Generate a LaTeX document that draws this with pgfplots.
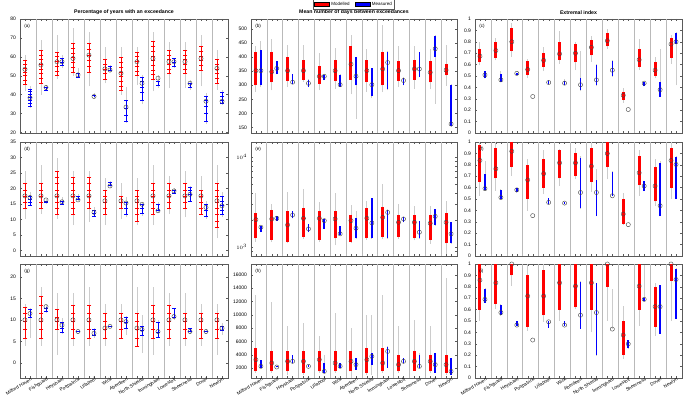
\documentclass[border=0pt]{standalone}
\usepackage{fontspec}
\setmainfont{Liberation Sans}
\usepackage{pgfplots}
\usepackage{pgfplotstable}
\pgfplotsset{compat=1.18}

% columns: station, modelled median/min/max/dense-low/dense-high, measured median/min/max/dense-low/dense-high
\pgfplotstableread{
s rm rl rh rdl rdh bm bl bh bdl bdh
1 53.4 41.7 61.2 45.6 58 38.3 33 44.3 34 43
2 55.7 40 69 46 63.5 43.8 41.7 45 42 44
3 57.4 48 71.3 50 62.5 57.4 54 61 55.5 59
4 59.1 49.6 75 52 67 50.4 48.7 54 49 51
5 60.9 44.3 73 52 67 39 38.3 41 39 39.5
6 53.6 46 65 48 58.5 53 51.8 55.7 53 55
7 51.3 40 65 42 59.5 33.4 25.2 44 26 37
8 57.4 45 65 50 62.5 46 35 50.4 37 49
9 59.1 41.7 73 48 68 48.7 43.5 50.4 45 47
10 57.4 43.5 67.8 51 63.5 57.4 54 59 55 59
11 57.4 43.5 67.8 51 63.5 46 42.6 47.8 44 46
12 59.1 44.3 71.3 53 65.5 36.5 24.3 41 26 39
13 53.9 42.6 63.5 46 58.5 36.5 34.4 42.6 35.5 41
}\tabA
\pgfplotstableread{
s rm rl rh rdl rdh bm bl bh bdl bdh
1 352 276 439 300 420 352 293 457 300 425
2 348 282 463 310 420 360 340 387 340 385
3 352 293 442 315 400 311 305 340 305 340
4 352 311 442 320 390 307 293 323 295 320
5 332 282 416 305 370 332 317 340 318 338
6 352 288 433 315 390 302 293 340 295 335
7 375 268 480 320 440 332 180 400 300 400
8 352 276 428 310 390 302 253 360 260 360
9 358 276 515 300 420 381 282 422 285 420
10 352 293 439 315 385 317 305 328 300 325
11 358 288 439 320 390 358 328 420 330 420
12 346 285 428 310 385 430 235 480 400 475
13 354 299 445 335 375 162 153 305 155 300
}\tabB
\pgfplotstableread{
s rm rl rh rdl rdh bm bl bh bdl bdh
1 0.674 0.594 0.794 0.62 0.74 0.509 0.48 0.54 0.48 0.54
2 0.723 0.637 0.837 0.66 0.80 0.466 0.45 0.54 0.45 0.52
3 0.80 0.666 0.966 0.72 0.92 0.523 0.51 0.53 0.51 0.53
4 0.557 0.48 0.651 0.51 0.63 0.32 0.32 0.32 0.32 0.32
5 0.637 0.543 0.751 0.58 0.70 0.443 0.43 0.46 0.43 0.46
6 0.694 0.609 0.894 0.64 0.80 0.437 0.42 0.47 0.42 0.46
7 0.70 0.551 0.80 0.62 0.78 0.423 0.366 0.723 0.38 0.48
8 0.751 0.623 0.851 0.68 0.82 0.466 0.409 0.609 0.42 0.60
9 0.809 0.737 0.909 0.76 0.88 0.551 0.494 0.637 0.50 0.63
10 0.331 0.266 0.394 0.29 0.36 0.206 0.206 0.206 0.206 0.206
11 0.643 0.551 0.823 0.58 0.74 0.437 0.409 0.451 0.41 0.45
12 0.551 0.48 0.666 0.50 0.62 0.38 0.323 0.737 0.32 0.45
13 0.78 0.609 0.86 0.66 0.83 0.80 0.417 0.886 0.78 0.88
}\tabC
\pgfplotstableread{
s rm rl rh rdl rdh bm bl bh bdl bdh
1 17.6 10.1 25.6 13.5 21.5 17.1 14.4 18.7 14.5 17.5
2 17.6 11.7 27.7 13.5 21.5 16.3 14.9 16.5 15.5 16
3 17.6 10.1 29.9 11.5 25.5 15.7 14.9 17.1 15 16
4 17.6 8.2 25.6 11.5 23.5 16.3 16.0 18.1 16.5 17.5
5 17.6 9.1 25.6 13.5 23.5 12.3 10.7 13.9 11 13
6 16 8.2 23.5 11.5 19.5 20.8 20 22.4 21 22
7 16 10.1 21.9 13.5 17.5 15.3 10.7 17.1 11.5 15.5
8 16 8.2 23.5 9.5 19.5 14.9 11.2 15.5 12 15
9 17.6 8.2 27.7 11.5 21.5 12.8 12.3 15.5 13 15
10 17.6 11.7 24 13.5 21.5 19.2 18.1 20.3 18.5 19.5
11 17.6 10.7 25.6 13.5 21.5 18.1 16 20.8 16 20.5
12 17.6 11.7 24 11.5 19.5 13.9 10.1 16 11 15
13 16 3.9 27.7 7.5 21.5 14.4 10.7 18.7 11.5 17.5
}\tabD
\pgfplotstableread{
s rm rl rh rdl rdh bm bl bh bdl bdh
1 2018 1150 4045 1250 2400 1662 1463 1733 1463 1733
2 2054 1135 3003 1200 2600 2090 1967 2235 1967 2235
3 1763 1100 4106 1150 2500 2273 2090 2536 2090 2536
4 2090 1236 4472 1300 2700 1592 1463 1808 1463 1808
5 2090 1135 3135 1200 2500 1967 1592 2054 1600 2054
6 2054 1043 4045 1250 2500 1403 1367 1733 1370 1733
7 1967 1100 2931 1150 2300 1620 1236 2536 1250 2100
8 2090 1200 3270 1250 2700 1855 1236 3557 1250 3500
9 2142 1236 4993 1300 2800 2430 1236 2646 1250 2600
10 1886 1236 3003 1300 2300 2054 1886 2142 1886 2142
11 1886 1184 2879 1250 2300 1463 1236 1967 1250 1950
12 1840 1088 2879 1200 2300 2195 1733 2646 1750 2646
13 1886 844 3270 1100 2400 1403 1088 1886 1100 1886
}\tabE
\pgfplotstableread{
s rm rl rh rdl rdh bm bl bh bdl bdh
1 0.838 0.528 1.0 0.65 0.97 0.591 0.571 0.832 0.58 0.72
2 0.765 0.571 1.0 0.68 0.95 0.513 0.499 0.586 0.50 0.58
3 0.919 0.701 1.0 0.78 1.0 0.58 0.557 0.597 0.56 0.60
4 0.667 0.397 0.852 0.50 0.80 0.354 0.354 0.354 0.354 0.354
5 0.722 0.542 0.933 0.60 0.85 0.47 0.455 0.513 0.46 0.51
6 0.817 0.614 0.939 0.68 0.93 0.464 0.455 0.475 0.455 0.47
7 0.817 0.672 0.948 0.70 0.90 0.557 0.412 0.875 0.42 0.86
8 0.788 0.562 1.0 0.65 0.95 0.557 0.354 0.759 0.35 0.67
9 0.899 0.672 1.0 0.78 1.0 0.528 0.528 0.745 0.53 0.74
10 0.368 0.272 0.557 0.28 0.50 0.275 0.275 0.275 0.275 0.275
11 0.73 0.528 0.933 0.62 0.88 0.614 0.571 0.658 0.57 0.66
12 0.614 0.441 0.852 0.48 0.78 0.441 0.354 0.832 0.35 0.82
13 0.838 0.504 1.0 0.60 0.95 0.803 0.504 0.875 0.50 0.87
}\tabF
\pgfplotstableread{
s rm rl rh rdl rdh bm bl bh bdl bdh
1 10 4 13.8 5.8 13 11.5 5.8 12.7 10.5 12.5
2 10 4 17.7 5.8 15.4 13.1 11.5 13.5 12 13.1
3 10 1.9 16.2 7.7 12.5 8.8 6.8 10.4 7 9.5
4 10 4 16.2 5.8 13.5 7.3 7.3 7.3 7.3 7.3
5 10 4 17.7 5.8 13.5 6.9 5.8 8.1 6.5 7.7
6 8.1 4 13.8 5.8 11.5 8.5 8.5 8.5 8.5 8.5
7 10 5.8 13.8 5.8 11.5 9.6 6.5 10.8 8 10.5
8 8.1 4 17.7 3.8 11.5 7.8 2.3 11.2 6.5 8.5
9 10 1.9 17.7 5.8 13.5 7.3 5.8 10 6 9.5
10 10 4 16.2 5.8 13.5 10.8 10 12.7 10.5 12.7
11 10 4 16.2 5.8 11.5 7.3 6.9 8.1 7.3 8
12 10 4 13.8 5.8 11.5 7.3 7.1 7.8 7.3 7.3
13 10 1.9 13.8 5.8 11.5 8.1 6.5 9.2 7.5 8.5
}\tabG
\pgfplotstableread{
s rm rl rh rdl rdh bm bl bh bdl bdh
1 3245 1250 12960 1500 5000 2250 2000 3245 2000 3200
2 2750 1250 11960 1500 4500 2150 2100 2250 2100 2250
3 3000 1000 8225 1500 4500 3000 2750 4000 2750 4000
4 3000 1000 8720 1300 4500 2250 2150 2500 2150 2500
5 3245 1250 6730 1500 4500 1500 1250 4000 1250 2700
6 2750 1250 10200 1500 4500 2250 2000 2750 2000 2750
7 3000 500 7980 1500 4500 2500 1750 3500 1750 3500
8 3245 1000 9970 1300 5000 3740 1000 9970 2500 4200
9 2750 1250 12960 1500 5000 4490 2000 5240 2000 5200
10 2500 1250 8225 1500 4000 3000 2750 3500 2750 3500
11 3000 1500 9220 1600 4500 2250 2000 4240 2000 4000
12 3000 1250 8225 1500 4000 2500 1250 4240 1250 4200
13 2500 1000 15450 1300 4000 1500 1000 3500 1000 3500
}\tabH
\pgfplotstableread{
s rm rl rh rdl rdh bm bl bh bdl bdh
1 0.858 0.501 1 0.60 1 0.69 0.661 0.79 0.66 0.78
2 0.835 0.603 1 0.65 1 0.574 0.545 0.646 0.55 0.64
3 1 0.806 1 0.90 1 0.464 0.458 0.501 0.46 0.50
4 0.719 0.414 1 0.45 0.90 0.333 0.333 0.333 0.333 0.333
5 0.719 0.493 1 0.55 0.95 0.493 0.443 0.501 0.44 0.50
6 0.835 0.501 1 0.60 1 0.464 0.458 0.501 0.46 0.50
7 0.806 0.603 1 0.62 1 0.551 0.429 0.849 0.43 0.84
8 0.835 0.40 1 0.60 1 0.574 0.197 0.835 0.20 0.83
9 1 0.501 1 0.80 1 0.429 0.429 0.777 0.429 0.429
10 0.377 0.168 0.632 0.20 0.50 0.299 0.255 0.328 0.26 0.33
11 0.806 0.458 1 0.60 1 0.69 0.675 0.994 0.675 0.70
12 0.626 0.371 0.835 0.45 0.80 0.626 0.386 0.82 0.39 0.82
13 1 0.501 1 0.85 1 0.864 0.516 0.965 0.52 0.96
}\tabI

\definecolor{frame}{RGB}{90,90,90}

\pgfplotsset{
  panel/.style={
    scale only axis, anchor=north west, height=114pt,
    xmin=0.5, xmax=13.5, clip=false,
    xtick={1,...,13}, xticklabels={}, major x tick style={draw=none},
    minor xtick={0.81,1.125,1.81,2.125,2.81,3.125,3.81,4.125,4.81,5.125,5.81,6.125,6.81,7.125,
                 7.81,8.125,8.81,9.125,9.81,10.125,10.81,11.125,11.81,12.125,12.81,13.125},
    extra x ticks={1.5,2.5,...,12.5}, extra x tick labels={},
    extra x tick style={grid=major},
    major grid style={draw=gray!55, line width=0.7pt},
    axis line style={draw=frame, line width=0.4pt},
    every tick/.append style={draw=frame, line width=0.3pt},
    major tick length=2pt, minor tick length=1.8pt,
    tick label style={font=\fontsize{5}{6}\selectfont},
    /pgf/number format/assume math mode=true,
    yticklabel style={xshift=-0.5pt},
    every axis title/.style={at={(0.5,1)}, anchor=south, yshift=0.6pt,
      font=\bfseries\fontsize{5.2}{6}\selectfont},
  },
  stations/.style={
    xticklabels={Milford Haven,Fishguard,Heysham,Portpatrick,Ullapool,Wick,Aberdeen,
      North Shields,Immingham,Lowestoft,Sheerness,Dover,Newlyn},
    xticklabel style={rotate=31, anchor=north east, inner sep=0.5pt,
      font=\fontsize{4.7}{5}\selectfont, xshift=3pt},
  },
  reddash/.style={forget plot, only marks, mark=-, mark size=2.3pt, color=red,
    mark options={line width=0.7pt}, x filter/.expression={x-0.19}},
  bluedash/.style={forget plot, only marks, mark=-, mark size=1.8pt, color=blue,
    mark options={line width=0.7pt}, x filter/.expression={x+0.125}},
}

% value mapping onto the drawn y scale (identity; log10 for the log-scaled panel)
\def\T#1{(#1)}

% grey extent, coloured core of each distribution (#2 modelled width, #3 measured width)
\newcommand\violins[3]{%
  \addplot[forget plot, draw=none, mark=none, error bars/.cd, y dir=plus, y explicit, error mark=none,
    error bar style={draw=gray!40, line width=0.9pt}]
    table[x expr=\thisrow{s}-0.19, y expr=\T{\thisrow{rl}},
      y error plus expr=\T{\thisrow{rh}}-\T{\thisrow{rl}}] {#1};
  \addplot[forget plot, draw=none, mark=none, error bars/.cd, y dir=plus, y explicit, error mark=none,
    error bar style={draw=gray!40, line width=0.9pt}]
    table[x expr=\thisrow{s}+0.125, y expr=\T{\thisrow{bl}},
      y error plus expr=\T{\thisrow{bh}}-\T{\thisrow{bl}}] {#1};
  \addplot[forget plot, draw=none, mark=none, error bars/.cd, y dir=plus, y explicit, error mark=none,
    error bar style={draw=red, line width=#2}]
    table[x expr=\thisrow{s}-0.19, y expr=\T{\thisrow{rdl}},
      y error plus expr=\T{\thisrow{rdh}}-\T{\thisrow{rdl}}] {#1};
  \addplot[forget plot, draw=none, mark=none, error bars/.cd, y dir=plus, y explicit, error mark=none,
    error bar style={draw=blue, line width=#3}]
    table[x expr=\thisrow{s}+0.125, y expr=\T{\thisrow{bdl}},
      y error plus expr=\T{\thisrow{bdh}}-\T{\thisrow{bdl}}] {#1};
}
% white median circles
\newcommand\medians[1]{%
  \addplot[forget plot, only marks, mark=o, mark size=2.1pt,
    mark options={fill=white, draw=gray!50!black, line width=0.4pt}]
    table[x expr=\thisrow{s}-0.19, y expr=\T{\thisrow{rm}}] {#1};
  \addplot[forget plot, only marks, mark=o, mark size=2.1pt,
    mark options={fill=white, draw=gray!50!black, line width=0.4pt}]
    table[x expr=\thisrow{s}+0.125, y expr=\T{\thisrow{bm}}] {#1};
}
\newcommand\plab[1]{\node[anchor=north west, font=\fontsize{4.6}{5}\selectfont, inner sep=0pt]
  at (rel axis cs:0.02,0.96) {#1};}

\begin{document}
\begin{tikzpicture}
\path[use as bounding box] (0,0) rectangle (685pt,-403pt);

% ---------- row 1 ----------
\begin{axis}[panel, at={(20pt,-19pt)}, width=208pt, ymin=19.7, ymax=80, ytick={20,30,...,80},
  title={Percentage of years with an exceedance}]
\violins{\tabA}{0.4pt}{0.5pt}
\addplot[reddash] coordinates {(1,45.6)(1,47.8)(1,50)(1,52)(1,54)(1,56)(1,58)
 (2,46)(2,48.5)(2,51)(2,53.5)(2,56)(2,58.5)(2,61)(2,63.5)
 (3,50)(3,52.5)(3,55)(3,57.5)(3,60)(3,62.5)
 (4,52)(4,54.5)(4,57)(4,59.5)(4,62)(4,64.5)(4,67)
 (5,52)(5,55)(5,58)(5,61)(5,64)(5,67)
 (6,48)(6,51)(6,53.5)(6,56)(6,58.5)
 (7,42)(7,44.5)(7,47)(7,49.5)(7,52)(7,54.5)(7,57)(7,59.5)
 (8,50)(8,52.5)(8,55)(8,57.5)(8,60)(8,62.5)
 (9,48)(9,50.5)(9,53)(9,55.5)(9,58)(9,60.5)(9,63)(9,65.5)(9,68)
 (10,51)(10,53.5)(10,56)(10,58.5)(10,61)(10,63.5)
 (11,51)(11,53.5)(11,56)(11,58.5)(11,61)(11,63.5)
 (12,53)(12,55.5)(12,58)(12,60.5)(12,63)(12,65.5)
 (13,46)(13,48.5)(13,51)(13,53.5)(13,56)(13,58.5)};
\addplot[bluedash] coordinates {(1,34)(1,35.5)(1,37)(1,38.5)(1,40)(1,41.5)(1,43)
 (2,42)(2,44) (3,55.5)(3,57)(3,59) (4,49)(4,51) (5,39.5) (6,53)(6,55)
 (7,26)(7,29)(7,33)(7,37) (8,37)(8,41)(8,44)(8,47)(8,49) (9,45)(9,47)
 (10,55)(10,57)(10,59) (11,44)(11,46) (12,26)(12,30)(12,34)(12,37)(12,39)
 (13,35.5)(13,37)(13,39)(13,41)};
\medians{\tabA}
\plab{(a)}
\end{axis}

\begin{axis}[panel, at={(251pt,-19pt)}, width=206pt, ymin=130, ymax=536, ytick={150,200,...,500},
  title={Mean number of days between exceedances},
  legend style={at={(0.5,1)}, anchor=south, yshift=9.5pt, draw=frame, line width=0.3pt,
    font=\fontsize{4.5}{5}\selectfont, legend columns=2, inner sep=0.6pt,
    /tikz/every even column/.append style={column sep=3pt}},
  legend image code/.code={\fill[#1] (0pt,-1.7pt) rectangle (15pt,1.9pt);}]
\addlegendimage{fill=red}\addlegendentry{Modelled}
\addlegendimage{fill=blue}\addlegendentry{Measured}
\violins{\tabB}{3pt}{1.6pt}
\medians{\tabB}
\plab{(b)}
\end{axis}

\begin{axis}[panel, at={(475pt,-19pt)}, width=207pt, ymin=0, ymax=1, ytick={0,0.1,...,1.0},
  title={Extremal index}]
\violins{\tabC}{3pt}{1.6pt}
\medians{\tabC}
\plab{(c)}
\end{axis}

% ---------- row 2 ----------
\begin{axis}[panel, at={(20pt,-142pt)}, width=208pt, ymin=-1.8, ymax=35, ytick={0,5,...,35}]
\violins{\tabD}{0.4pt}{0.5pt}
\addplot[reddash] coordinates {(1,13.5)(1,15.5)(1,17.5)(1,19.5)(1,21.5)
 (2,13.5)(2,15.5)(2,17.5)(2,19.5)(2,21.5)
 (3,11.5)(3,13.5)(3,15.5)(3,17.5)(3,19.5)(3,21.5)(3,23.5)(3,25.5)
 (4,11.5)(4,13.5)(4,15.5)(4,17.5)(4,19.5)(4,21.5)(4,23.5)
 (5,13.5)(5,15.5)(5,17.5)(5,19.5)(5,21.5)(5,23.5)
 (6,11.5)(6,13.5)(6,15.5)(6,17.5)(6,19.5)
 (7,13.5)(7,15.5)(7,17.5)
 (8,9.5)(8,11.5)(8,13.5)(8,15.5)(8,17.5)(8,19.5)
 (9,11.5)(9,13.5)(9,15.5)(9,17.5)(9,19.5)(9,21.5)
 (10,13.5)(10,15.5)(10,17.5)(10,19.5)(10,21.5)
 (11,13.5)(11,15.5)(11,17.5)(11,19.5)(11,21.5)
 (12,11.5)(12,13.5)(12,15.5)(12,17.5)(12,19.5)
 (13,7.5)(13,9.5)(13,11.5)(13,13.5)(13,15.5)(13,17.5)(13,19.5)(13,21.5)};
\addplot[bluedash] coordinates {(1,14.5)(1,15.5)(1,16.5)(1,17.5) (2,15.5)(2,16) (3,15)(3,16)
 (4,16.5)(4,17.5) (5,11)(5,12)(5,13) (6,21)(6,22) (7,11.5)(7,13.5)(7,15.5)
 (8,12)(8,13.5)(8,15) (9,13)(9,15) (10,18.5)(10,19.5) (11,16)(11,18)(11,19.5)(11,20.5)
 (12,11)(12,13)(12,15) (13,11.5)(13,13)(13,14.5)(13,16)(13,17.5)};
\medians{\tabD}
\plab{(d)}
\end{axis}

% log-scaled panel: values are mapped through log10 onto a linear axis
\begingroup
\def\T#1{log10(#1)}
\begin{axis}[panel, at={(251pt,-142pt)}, width=206pt, ymin=2.9004, ymax=4.1691,
  ytick={3,4}, yticklabels={$10^3$,$10^4$},
  minor ytick={2.9031,2.9542,3.3010,3.4771,3.6021,3.6990,3.7782,3.8451,3.9031,3.9542}]
\violins{\tabE}{3pt}{1.6pt}
\medians{\tabE}
\plab{(e)}
\end{axis}
\endgroup

\begin{axis}[panel, at={(475pt,-142pt)}, width=207pt, ymin=0, ymax=1, ytick={0,0.1,...,1.0}]
\violins{\tabF}{3pt}{1.6pt}
\medians{\tabF}
\plab{(f)}
\end{axis}

% ---------- row 3 ----------
\begin{axis}[panel, stations, at={(20pt,-264pt)}, width=208pt, ymin=-3.5, ymax=23, ytick={0,5,...,20}]
\violins{\tabG}{0.4pt}{0.5pt}
\addplot[reddash] coordinates {(1,5.8)(1,7.7)(1,9.6)(1,11.5)(1,13)
 (2,5.8)(2,7.7)(2,9.6)(2,11.5)(2,13.5)(2,15.4)
 (3,7.7)(3,9.6)(3,10.5)(3,12.5)
 (4,5.8)(4,7.7)(4,9.6)(4,11.5)(4,13.5)
 (5,5.8)(5,7.7)(5,9.6)(5,11.5)(5,13.5)
 (6,5.8)(6,7.7)(6,9.6)(6,11.5)
 (7,5.8)(7,7.7)(7,9.6)(7,11.5)
 (8,3.8)(8,5.8)(8,7.7)(8,9.6)(8,11.5)
 (9,5.8)(9,7.7)(9,9.6)(9,11.5)(9,13.5)
 (10,5.8)(10,7.7)(10,9.6)(10,11.5)(10,13.5)
 (11,5.8)(11,7.7)(11,9.6)(11,11.5)
 (12,5.8)(12,7.7)(12,9.6)(12,11.5)
 (13,5.8)(13,7.7)(13,9.6)(13,11.5)};
\addplot[bluedash] coordinates {(1,10.5)(1,12.5) (2,12)(2,12.8) (3,7)(3,8)(3,9.5) (4,7.3)
 (5,6.5)(5,7.7) (6,8.5) (7,8)(7,9.5)(7,10.5) (8,6.5)(8,7.5)(8,8.5) (9,6)(9,7)(9,9.5)
 (10,10.5)(10,12.7) (11,7.3)(11,8) (12,7.3) (13,7.5)(13,8.5)};
\medians{\tabG}
\plab{(g)}
\end{axis}

\begin{axis}[panel, stations, at={(251pt,-264pt)}, width=206pt, ymin=500, ymax=17600,
  ytick={2000,4000,...,16000}, scaled y ticks=false,
  yticklabel style={/pgf/number format/set thousands separator={}}]
\violins{\tabH}{3pt}{1.6pt}
\medians{\tabH}
\plab{(h)}
\end{axis}

\begin{axis}[panel, stations, at={(475pt,-264pt)}, width=207pt, ymin=0, ymax=1, ytick={0,0.1,...,1.0}]
\violins{\tabI}{3pt}{1.6pt}
\medians{\tabI}
\plab{(i)}
\end{axis}
\end{tikzpicture}
\end{document}
